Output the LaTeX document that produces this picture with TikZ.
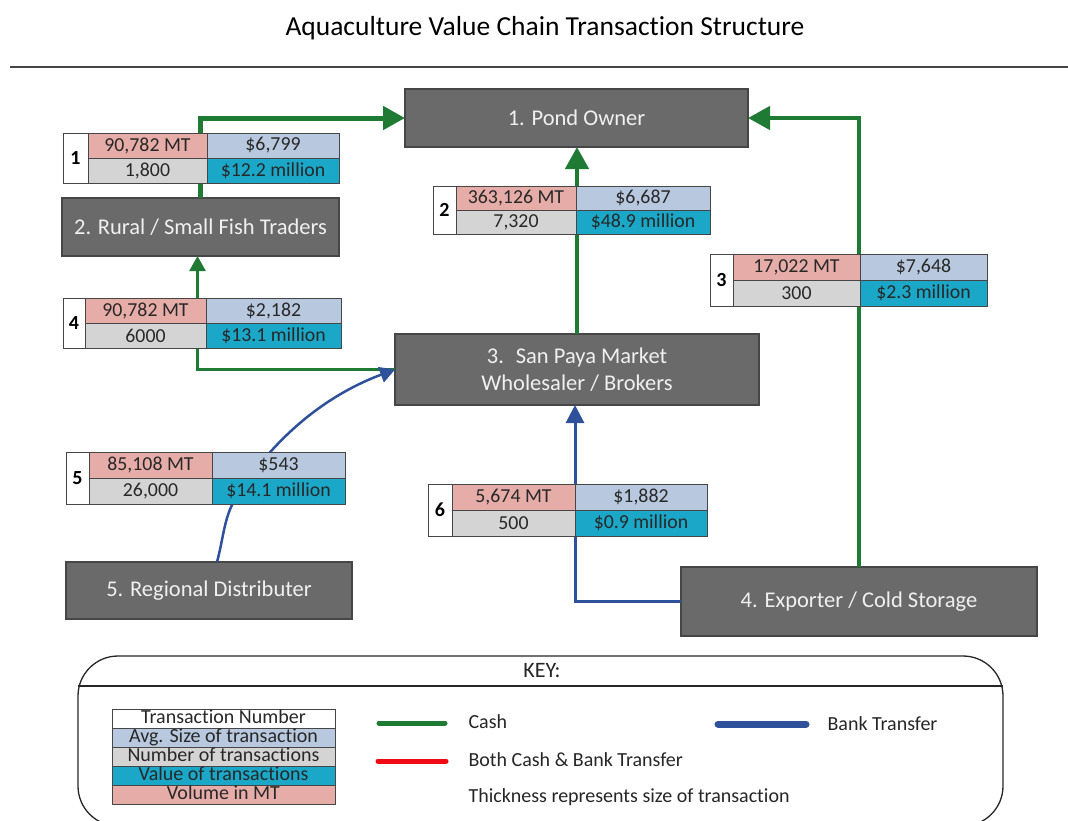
\documentclass[tikz,border=0pt]{standalone}
\usepackage{fontspec}
\setmainfont{Carlito}[Ligatures={NoCommon,NoRare}]
\usetikzlibrary{arrows.meta}

\definecolor{boxgray}{RGB}{106,106,106}
\definecolor{boxtext}{RGB}{240,240,240}
\definecolor{cashgreen}{RGB}{31,122,51}
\definecolor{bankblue}{RGB}{47,80,155}
\definecolor{bothred}{RGB}{240,10,20}
\definecolor{volfill}{RGB}{230,172,168}
\definecolor{avgfill}{RGB}{184,200,222}
\definecolor{cntfill}{RGB}{212,212,212}
\definecolor{valfill}{RGB}{27,167,200}
\definecolor{celltext}{RGB}{40,40,40}
\definecolor{rulegray}{RGB}{70,70,70}

% column widths and row height of the transaction tables
\newcommand\setcols[4]{\def\wn{#1}\def\wa{#2}\def\wb{#3}\def\rh{#4}}
% transaction table: name, top-left corner, number, volume, average, count, value
\newcommand\txtable[7]{%
  \node[cell, fill=white, font=\fontsize{20}{22}\selectfont\bfseries, text=black,
        minimum width=\wn, minimum height=2*\rh] (#1-n) at (#2) {#3};
  \node[cell, fill=volfill, minimum width=\wa, minimum height=\rh] (#1-v) at (#1-n.north east) {#4};
  \node[cell, fill=avgfill, minimum width=\wb, minimum height=\rh] (#1-a) at (#1-v.north east) {#5};
  \node[cell, fill=cntfill, minimum width=\wa, minimum height=\rh] (#1-c) at (#1-v.south west) {#6};
  \node[cell, fill=valfill, minimum width=\wb, minimum height=\rh] (#1-s) at (#1-c.north east) {#7};
}

\tikzset{
  actor/.style={draw=rulegray, line width=1.2pt, fill=boxgray, text=boxtext,
    font=\fontsize{22.5}{27}\selectfont, align=center, inner sep=0pt, outer sep=0pt},
  cell/.style={draw=rulegray, line width=1pt, anchor=north west, inner sep=0pt,
    outer sep=0pt, text=celltext, font=\fontsize{19.8}{21}\selectfont},
  keycell/.style={draw=rulegray, line width=1pt, anchor=north west, inner sep=0pt,
    outer sep=0pt, minimum width=223, minimum height=19, text height=12.5pt,
    text depth=3.5pt, text=celltext, font=\fontsize{20}{20}\selectfont},
  cash/.style={draw=cashgreen},
  bank/.style={draw=bankblue},
  bigtip/.style={-{Triangle[length=22pt,width=23pt]}},
  midtip/.style={-{Triangle[length=18pt,width=18pt]}},
  smalltip/.style={-{Triangle[length=15pt,width=16pt]}},
  keytext/.style={anchor=west, font=\fontsize{20}{22}\selectfont, text=black!85},
  keyline/.style={line cap=round}
}

\begin{document}
\begin{tikzpicture}[x=1pt, y=-1pt]
\useasboundingbox (0,0) rectangle (1068,820);

% title and rule
\node[font=\fontsize{27.5}{30}\selectfont] (title) at (545,28) {Aquaculture Value Chain Transaction Structure};
\draw[rulegray, line width=1.5pt] (10,67) -- (1068,67);

% value-chain actors
\node[actor, minimum width=343, minimum height=58] (pond) at (576.5,118) {1. Pond Owner};
\node[actor, minimum width=277, minimum height=58] (rural) at (200.5,227) {2. Rural / Small Fish Traders};
\node[actor, minimum width=364, minimum height=71] (market) at (577,369.5) {3.~ San Paya Market\\Wholesaler / Brokers};
\node[actor, minimum width=286, minimum height=57] (regional) at (209,590.5) {5. Regional Distributer};
\node[actor, minimum width=356, minimum height=69] (exporter) at (859,601.5) {4. Exporter / Cold Storage};

% payment flows
\draw[cash, line width=5pt, bigtip] (rural.north) |- (pond.west);
\draw[cash, line width=4.5pt, bigtip] (market.north) -- (market.north |- pond.south);
\draw[cash, line width=4.5pt, bigtip] (exporter.north) |- (pond.east);
\draw[cash, line width=2.5pt, smalltip] (market.west) -| ([xshift=-3]rural.south);
\draw[bank, line width=2.5pt, smalltip] ([xshift=8]regional.north)
  .. controls (223,540) and (224,520) .. (233,503)
  .. controls (252,470) and (300,405) .. (market.west);
\draw[bank, line width=3pt, midtip] (exporter.west) -| ([xshift=-2]market.south);

% transaction tables
\setcols{25}{119}{132}{25}
\txtable{t1}{63,133}{1}{90,782 MT}{\$6,799}{1,800}{\$12.2 million}
\setcols{23}{120}{134}{24}
\txtable{t2}{433,186}{2}{363,126 MT}{\$6,687}{7,320}{\$48.9 million}
\setcols{23}{127}{127}{26}
\txtable{t3}{710,254}{3}{17,022 MT}{\$7,648}{300}{\$2.3 million}
\setcols{22}{121}{135}{25}
\txtable{t4}{63,298}{4}{90,782 MT}{\$2,182}{6000}{\$13.1 million}
\setcols{23}{123}{133}{26}
\txtable{t5}{66,452}{5}{85,108 MT}{\$543}{26,000}{\$14.1 million}
\setcols{24}{123}{132}{26}
\txtable{t6}{428,484}{6}{5,674 MT}{\$1,882}{500}{\$0.9 million}

% key
\draw[black!85, line width=1.3pt, rounded corners=40pt] (78,656) rectangle (1003,826);
\draw[black!85, line width=1.3pt] (78,686) -- (1003,686);
\node[font=\fontsize{22}{24}\selectfont, text=black!85] (keytitle) at (542,671) {KEY:};

\node[keycell, fill=white] (k1) at (112,709) {Transaction Number};
\node[keycell, fill=avgfill] (k2) at (k1.south west) {Avg. Size of transaction};
\node[keycell, fill=cntfill] (k3) at (k2.south west) {Number of transactions};
\node[keycell, fill=valfill] (k4) at (k3.south west) {Value of transactions};
\node[keycell, fill=volfill] (k5) at (k4.south west) {Volume in MT};

\draw[cashgreen, line width=5pt, keyline] (379,723) -- (445,723);
\node[keytext] (kcash) at (465,722) {Cash};
\draw[bothred, line width=5pt, keyline] (378,761) -- (446,761);
\node[keytext] (kboth) at (465,760) {Both Cash \& Bank Transfer};
\node[keytext] (kthick) at (465,797) {Thickness represents size of transaction};
\draw[bankblue, line width=7pt, keyline] (718,724) -- (806,724);
\node[keytext] (kbank) at (824,724) {Bank Transfer};
\end{tikzpicture}
\end{document}
